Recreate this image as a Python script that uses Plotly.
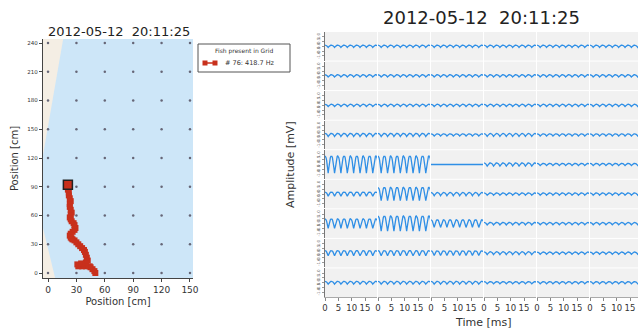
import plotly.graph_objects as go

W, H = 638, 331

# ---------------- data ----------------
title_text = "2012-05-12  20:11:25"
fish_id = 76
fish_freq_hz = 418.7

grid_x_ticks = [0, 30, 60, 90, 120, 150]
grid_y_ticks = [0, 30, 60, 90, 120, 150, 180, 210, 240]

track_x = [50, 49, 47, 45, 44, 40, 36, 32, 31, 35, 40, 42, 41, 40, 39, 38, 36, 34, 32, 30,
           28, 26, 25, 24, 23, 24, 26, 28, 29, 28, 27, 25, 24, 23, 24, 25, 24, 23, 23, 24,
           23, 22, 22, 21, 21, 21]
track_y = [0, 2, 4, 6, 7, 7, 7, 7, 9, 10, 11, 13, 16, 19, 22, 24, 26, 28, 30, 32,
           34, 35, 36, 37, 39, 41, 43, 45, 47, 50, 52, 54, 56, 58, 61, 63, 66, 69, 72, 75,
           78, 81, 84, 87, 90, 92]

# outside-of-water regions (beige) in cm
shore_top_x = [-5.3, -5.3, 16]
shore_top_y = [123, 244.2, 244.2]
shore_bot_x = [-5.3, -5.3, 7.5]
shore_bot_y = [47, -5.2, -5.2]

# one EOD period (normalised)
eod_template = [1.0, 0.95, 0.8, 0.5, 0.1, -0.5, -1.0, -0.5, 0.1, 0.5, 0.8, 0.95]

# amplitude per electrode (rows top->bottom, cols left->right)
amplitudes = [
    [0.12, 0.12, 0.12, 0.12, 0.12, 0.12],
    [0.12, 0.12, 0.12, 0.12, 0.12, 0.12],
    [0.12, 0.12, 0.12, 0.12, 0.12, 0.12],
    [0.17, 0.17, 0.12, 0.15, 0.12, 0.12],
    [0.90, 0.90, 0.00, 0.17, 0.12, 0.12],
    [0.22, 0.70, 0.17, 0.12, 0.12, 0.12],
    [0.50, 0.80, 0.40, 0.13, 0.12, 0.12],
    [0.27, 0.27, 0.25, 0.15, 0.12, 0.12],
    [0.15, 0.15, 0.15, 0.12, 0.12, 0.12],
]
time_ticks = [0, 5, 10, 15]
window_ms = 20.0

# ---------------- figure ----------------
RED = "#c8301c"
BLUE = "#2f8fe6"
FONT = "DejaVu Sans"

fig = go.Figure()
layout = dict(
    width=W, height=H, margin=dict(l=0, r=0, t=0, b=0, autoexpand=False),
    paper_bgcolor="white", plot_bgcolor="#f1f1f1",
    showlegend=False, font=dict(family=FONT, color="#222"),
)

def px2x(p):
    return p / W

def px2y(p):
    return 1 - p / H

# map axes
mx0, mx1, my0, my1 = 43, 193, 39, 278
layout["xaxis"] = dict(domain=[px2x(mx0), px2x(mx1)], range=[-5.3, 153.2], automargin=False,
                       tickvals=grid_x_ticks, showgrid=False, zeroline=False,
                       showline=True, linecolor="#444", linewidth=1.2,
                       ticks="outside", ticklen=3, tickcolor="#444",
                       tickfont=dict(size=9, color="#333"),
                       title=dict(text="Position [cm]", font=dict(size=10, color="#333"), standoff=4))
layout["yaxis"] = dict(domain=[px2y(my1), px2y(my0)], range=[-5.2, 244.2], automargin=False,
                       tickvals=grid_y_ticks, showgrid=False, zeroline=False,
                       showline=True, linecolor="#444", linewidth=1.2,
                       ticks="outside", ticklen=3, tickcolor="#444",
                       tickfont=dict(size=5.5, color="#333"),
                       title=dict(text="Position [cm]", font=dict(size=10, color="#333"), standoff=6))

shapes = []
shapes.append(dict(type="rect", xref="x", yref="y", x0=-5.3, x1=153.2, y0=-5.2, y1=244.2,
                   fillcolor="#cde6f8", line=dict(width=0), layer="below"))
for sx, sy in [(shore_top_x, shore_top_y), (shore_bot_x, shore_bot_y)]:
    path = "M " + " L ".join(f"{a},{b}" for a, b in zip(sx, sy)) + " Z"
    shapes.append(dict(type="path", xref="x", yref="y", path=path,
                       fillcolor="#f4eee4", line=dict(width=0), layer="below"))

# electrode dots
ex = [gx for gy in grid_y_ticks for gx in grid_x_ticks]
ey = [gy for gy in grid_y_ticks for gx in grid_x_ticks]
fig.add_trace(go.Scatter(x=ex, y=ey, mode="markers", xaxis="x", yaxis="y",
                         marker=dict(size=2.5, color="#667"), hoverinfo="skip"))
# track
fig.add_trace(go.Scatter(x=track_x, y=track_y, mode="lines+markers", xaxis="x", yaxis="y",
                         line=dict(color=RED, width=3),
                         marker=dict(symbol="square", size=6, color=RED)))
fig.add_trace(go.Scatter(x=[track_x[-1]], y=[track_y[-1]], mode="markers", xaxis="x", yaxis="y",
                         marker=dict(symbol="square", size=9, color=RED,
                                     line=dict(color="#222", width=1.5))))

annotations = []
annotations.append(dict(text=title_text, x=px2x(119), y=px2y(31), xref="paper", yref="paper",
                        showarrow=False, font=dict(size=13, color="#222"), xanchor="center", yanchor="middle"))

# legend (manual)
shapes.append(dict(type="rect", xref="paper", yref="paper", x0=px2x(198), x1=px2x(290),
                   y0=px2y(72), y1=px2y(44), line=dict(color="#555", width=1), fillcolor="white"))
annotations.append(dict(text="Fish present in Grid", x=px2x(244), y=px2y(51), xref="paper", yref="paper",
                        showarrow=False, font=dict(size=6, color="#333"), xanchor="center", yanchor="middle"))
shapes.append(dict(type="line", xref="paper", yref="paper", x0=px2x(205), x1=px2x(215),
                   y0=px2y(63), y1=px2y(63), line=dict(color=RED, width=1.5)))
for cx in (205, 215):
    shapes.append(dict(type="rect", xref="paper", yref="paper", x0=px2x(cx - 2.5), x1=px2x(cx + 2.5),
                       y0=px2y(65.5), y1=px2y(60.5), fillcolor=RED, line=dict(width=0)))
annotations.append(dict(text=f"# {fish_id}: {fish_freq_hz} Hz", x=px2x(223), y=px2y(63),
                        xref="paper", yref="paper", showarrow=False,
                        font=dict(size=6.5, color="#333"), xanchor="left", yanchor="middle"))

# ---------------- electrode grid ----------------
nrows, ncols = len(amplitudes), len(amplitudes[0])
gx0, gpitch, gw = 325, 53, 52
gy0, gy1 = 32, 298
gpitch_y = (gy1 - gy0) / nrows
gh = gpitch_y - 1.0

period_ms = 1000.0 / fish_freq_hz
n_per = len(eod_template)
dt = period_ms / n_per
nsamp = int(window_ms / dt) + 2
t = [i * dt for i in range(nsamp)]

k = 2
for r in range(nrows):
    for c in range(ncols):
        left = gx0 + c * gpitch
        right = left + gw
        xr = window_ms * 0.975
        if right > W:
            xr = xr * (W - left) / gw
            right = W
        top = gy0 + r * gpitch_y
        bot = top + gh
        a = amplitudes[r][c]
        yv = [a * eod_template[i % n_per] for i in range(nsamp)]
        fig.add_trace(go.Scatter(x=t, y=yv, mode="lines", xaxis=f"x{k}", yaxis=f"y{k}",
                                 line=dict(color=BLUE, width=1.3), hoverinfo="skip"))
        xa = dict(domain=[px2x(left), px2x(right)], range=[0, xr], showgrid=False, automargin=False,
                  zeroline=False, anchor=f"y{k}", tickvals=time_ticks)
        if r == nrows - 1:
            xa.update(showticklabels=True, ticks="outside", ticklen=3, tickcolor="#888",
                      showline=True, linecolor="#aaa", linewidth=1, tickangle=0,
                      tickfont=dict(size=8.5, color="#333"))
        else:
            xa.update(showticklabels=False, ticks="")
        ya = dict(domain=[px2y(bot), px2y(top)], range=[-1.5, 1.5], showgrid=False, automargin=False,
                  zeroline=False, anchor=f"x{k}")
        if c == 0:
            ya.update(showticklabels=True, tickvals=[-1, -0.5, 0, 0.5, 1],
                      ticktext=["-1.0", "-0.5", "0.0", "0.5", "1.0"], tickangle=-90,
                      tickfont=dict(size=4, color="#666"), ticks="outside", ticklen=2,
                      tickcolor="#999", showline=True, linecolor="#777", linewidth=1)
        else:
            ya.update(showticklabels=False, ticks="")
        layout[f"xaxis{k}"] = xa
        layout[f"yaxis{k}"] = ya
        k += 1

annotations.append(dict(text=title_text, x=px2x(481), y=px2y(18), xref="paper", yref="paper",
                        showarrow=False, font=dict(size=18, color="#222"), xanchor="center", yanchor="middle"))
annotations.append(dict(text="Amplitude [mV]", x=px2x(290), y=px2y(165), xref="paper", yref="paper",
                        showarrow=False, textangle=-90, font=dict(size=11, color="#333"),
                        xanchor="center", yanchor="middle"))
annotations.append(dict(text="Time [ms]", x=px2x(483), y=px2y(322), xref="paper", yref="paper",
                        showarrow=False, font=dict(size=11, color="#333"),
                        xanchor="center", yanchor="middle"))

layout["shapes"] = shapes
layout["annotations"] = annotations
fig.update_layout(**layout)
fig.write_html("out.html")
